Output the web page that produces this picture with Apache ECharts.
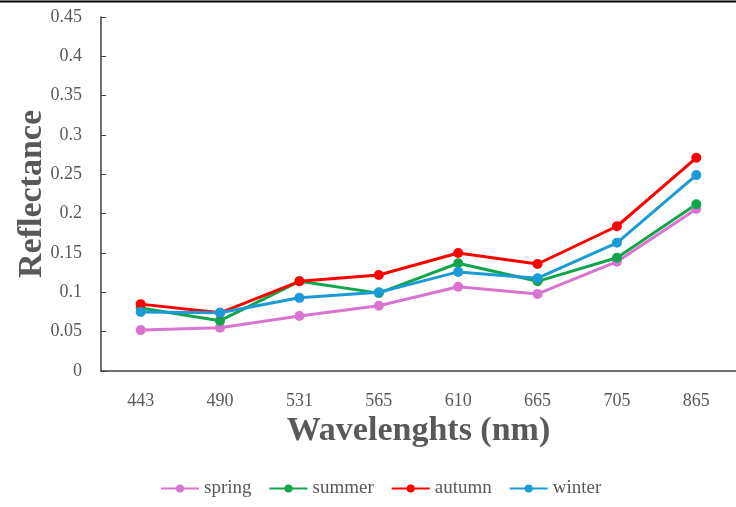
<!DOCTYPE html>
<html>
<head>
<meta charset="utf-8">
<script src="https://cdn.jsdelivr.net/npm/echarts@6/dist/echarts.min.js"></script>
<style>
  html, body { margin: 0; padding: 0; background: #fff; }
  #chart { width: 736px; height: 507px; }
</style>
</head>
<body>
<div id="chart"></div>
<script>
// wavelengths (nm)
var wavelengths = ['443', '490', '531', '565', '610', '665', '705', '865'];
var spring = [0.052, 0.055, 0.070, 0.083, 0.107, 0.098, 0.139, 0.206];
var summer = [0.080, 0.064, 0.114, 0.099, 0.137, 0.114, 0.144, 0.212];
var autumn = [0.085, 0.074, 0.114, 0.122, 0.150, 0.136, 0.184, 0.271];
var winter = [0.075, 0.074, 0.093, 0.100, 0.126, 0.118, 0.163, 0.249];

var chart = echarts.init(document.getElementById('chart'));

var fontFam = '"Liberation Serif", "Times New Roman", serif';

function mkSeries(name, data, color) {
  return {
    name: name,
    type: 'line',
    data: data,
    symbol: 'circle',
    symbolSize: 10,
    itemStyle: { color: color },
    lineStyle: { color: color, width: 3 },
    z: 2
  };
}

var option = {
  animation: false,
  color: ['#d975d0', '#13a54c', '#ff0000', '#1a9bd7'],
  graphic: [{
    type: 'line',
    shape: { x1: 0, y1: 1.5, x2: 736, y2: 1.5 },
    style: { stroke: '#000', lineWidth: 2 }
  }],
  legend: {
    top: 474,
    left: 155,
    itemWidth: 38,
    itemHeight: 10,
    itemGap: 17,
    textStyle: { fontFamily: fontFam, fontSize: 19, color: '#595959' },
    data: ['spring', 'summer', 'autumn', 'winter']
  },
  grid: {
    left: 101,
    right: -7,
    top: 17,
    bottom: 136
  },
  xAxis: {
    type: 'category',
    data: wavelengths,
    name: 'Wavelenghts (nm)',
    nameLocation: 'middle',
    nameGap: 43,
    nameMoveOverlap: false,
    nameTextStyle: { fontFamily: fontFam, fontSize: 34, fontWeight: 'bold', color: '#595959' },
    axisLine: { lineStyle: { color: '#3f3f3f', width: 1.5 } },
    axisTick: { inside: true, alignWithLabel: true, length: 5, lineStyle: { color: '#3f3f3f' } },
    axisLabel: { fontFamily: fontFam, fontSize: 18, color: '#595959', margin: 21 },
    splitLine: { show: false }
  },
  yAxis: {
    type: 'value',
    min: 0,
    max: 0.45,
    interval: 0.05,
    name: 'Reflectance',
    nameLocation: 'middle',
    nameGap: 52,
    nameMoveOverlap: false,
    nameTextStyle: { fontFamily: fontFam, fontSize: 34, fontWeight: 'bold', color: '#595959' },
    axisLine: { show: true, lineStyle: { color: '#3f3f3f', width: 1.5 } },
    axisTick: { show: true, inside: true, length: 5, lineStyle: { color: '#3f3f3f' } },
    axisLabel: {
      fontFamily: fontFam, fontSize: 18, color: '#595959', margin: 19,
      formatter: function (v) { return String(parseFloat(v.toFixed(2))); }
    },
    splitLine: { show: false }
  },
  series: [
    mkSeries('spring', spring, '#d975d0'),
    mkSeries('summer', summer, '#13a54c'),
    mkSeries('autumn', autumn, '#ff0000'),
    mkSeries('winter', winter, '#1a9bd7')
  ]
};

chart.setOption(option);
</script>
</body>
</html>
